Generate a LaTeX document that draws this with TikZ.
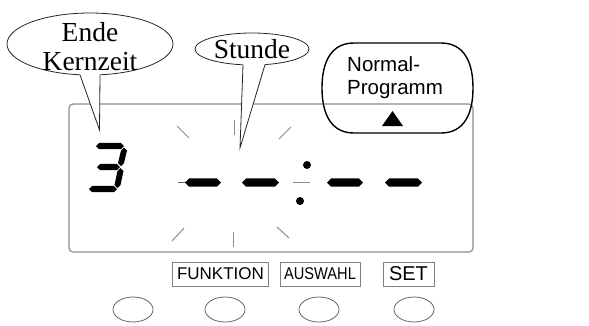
\documentclass[tikz,border=0pt]{standalone}
\usepackage{fontspec}
\setmainfont{Liberation Serif}
\newfontfamily\arialf{Liberation Sans}
\usetikzlibrary{shapes.geometric}
\newcommand\hseg[4]{% x1 x2 y halfthickness
  \fill (#1,#3) -- (#1+#4,#3-#4) -- (#2-#4,#3-#4) -- (#2,#3) -- (#2-#4,#3+#4) -- (#1+#4,#3+#4) -- cycle;}
\newcommand\vseg[4]{% x1 y1 x2 y2 (top to bottom)
  \fill (#1,#2) -- (#1+3,#2+3) -- (#3+3,#4-3) -- (#3,#4) -- (#3-3,#4-3) -- (#1-3,#2+3) -- cycle;}
\tikzset{
  callout/.style={ellipse, draw=black!85, line width=0.8pt, inner sep=0pt, fill=white},
  calltext/.style={font=\fontsize{27.5}{29}\selectfont, align=center},
  ray/.style={draw=black!45, line width=1pt},
  keylabel/.style={draw=black!50, line width=0.8pt, inner sep=0pt, font=\arialf\fontsize{17}{17}\selectfont},
  keybtn/.style={ellipse, draw=black!60, line width=0.8pt, minimum width=40pt, minimum height=25pt, inner sep=0pt},
}
\begin{document}
\begin{tikzpicture}[x=1pt,y=-1pt]
\useasboundingbox (0,0) rectangle (589,325);
% display
\node[draw=black!45, line width=1.2pt, rounded corners=4pt, minimum width=404pt, minimum height=148pt, inner sep=0pt] (disp) at (271,178) {};
% Normal-Programm box
\node[minimum width=151pt, minimum height=90pt, inner sep=0pt] (norm) at (397.5,88) {};
\draw[black, line width=1.4pt] (354,43) -- (441,43)
  .. controls (464,43) and (473,62) .. (473,88)
  .. controls (473,114) and (464,133) .. (441,133) -- (354,133)
  .. controls (331,133) and (322,114) .. (322,88)
  .. controls (322,62) and (331,43) .. (354,43) -- cycle;
\node[anchor=base west, inner sep=0pt, align=left, font=\arialf\fontsize{20.5}{23}\selectfont] (normtext) at (347,94) {Normal-\\Programm};
\fill (382,126) -- (403,126) -- (392.5,111) -- cycle;
% callout Ende Kernzeit
\node[callout, minimum width=166pt, minimum height=62pt] (ende) at (90,44) {};
\node[calltext] (endetext) at (90,47) {Ende\\Kernzeit};
\coordinate (endetip) at (99.5,130);
\fill[white] (80,74.8) -- (endetip) -- (100,74.8) -- (100,70) -- (80,70) -- cycle;
\draw[black!85, line width=0.8pt] (80,74.8) -- (endetip) -- (100,74.8);
% callout Stunde
\node[callout, minimum width=114pt, minimum height=32pt] (stunde) at (252,49) {};
\node[calltext] (stundetext) at (252,49.5) {Stunde};
\coordinate (stundetip) at (240,148);
\fill[white] (243,64.8) -- (stundetip) -- (265,64.6) -- (265,61) -- (243,61) -- cycle;
\draw[black!85, line width=0.8pt] (243,64.8) -- (stundetip) -- (265,64.6);
% digit 3
\hseg{96}{124}{146}{3.2}
\vseg{124}{147.5}{121}{166}
\hseg{97}{120}{167}{3.2}
\vseg{120.5}{168}{117.5}{188}
\hseg{89}{117}{189}{3.2}
% dashes
\draw[black!60, line width=0.8pt] (178,182.5) -- (186,182.5);
\hseg{185}{221}{182.5}{4.2}
\hseg{242}{279}{182.5}{4.2}
\hseg{327}{363}{182.5}{4.2}
\hseg{385}{422}{182.5}{4.2}
% colon
\draw[black!45, line width=1pt] (293,182) -- (310,182);
\fill (307,165) circle (4);
\fill (300,201) circle (4);
% rays
\draw[ray] (177,126) -- (189,138);
\draw[ray] (234,120) -- (234,135);
\draw[ray] (291,127) -- (279,139);
\draw[ray] (172,241) -- (184,228);
\draw[ray] (233,232) -- (233,247);
\draw[ray] (277,227) -- (289,238);
% key labels
\node[keylabel, minimum width=96pt, minimum height=24pt] (kfunk) at (220.5,274) {FUNKTION};
\node[keylabel, minimum width=80pt, minimum height=24pt] (kausw) at (320,274) {\scalebox{0.86}[1]{AUSWAHL}};
\node[keylabel, minimum width=51pt, minimum height=24pt, font=\arialf\fontsize{20}{20}\selectfont] (kset) at (408.5,274) {SET};
% keys
\node[keybtn] (b1) at (133,309.5) {};
\node[keybtn] (b2) at (225,309.5) {};
\node[keybtn] (b3) at (319,309.5) {};
\node[keybtn] (b4) at (414,309.5) {};
\end{tikzpicture}
\end{document}
